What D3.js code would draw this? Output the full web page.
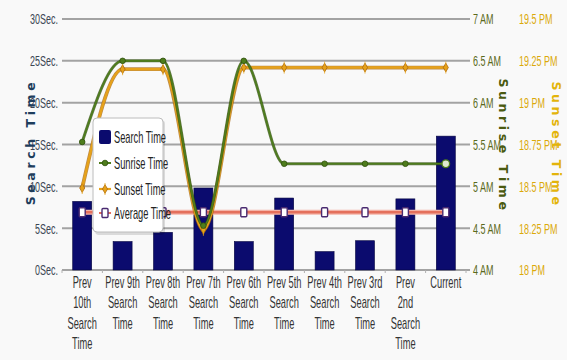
<!DOCTYPE html>
<html>
<head>
<meta charset="utf-8">
<script src="https://cdn.jsdelivr.net/npm/d3@7"></script>
<style>
  body { margin: 0; background: #fff; }
  svg { display: block; }
</style>
</head>
<body>
<div id="container"></div>
<script>
// DATA
const categories = [
  ['Prev', '10th', 'Search', 'Time'],
  ['Prev 9th', 'Search', 'Time'],
  ['Prev 8th', 'Search', 'Time'],
  ['Prev 7th', 'Search', 'Time'],
  ['Prev 6th', 'Search', 'Time'],
  ['Prev 5th', 'Search', 'Time'],
  ['Prev 4th', 'Search', 'Time'],
  ['Prev 3rd', 'Search', 'Time'],
  ['Prev', '2nd', 'Search', 'Time'],
  ['Current']
];
const searchTime = [8.2, 3.4, 4.5, 9.8, 3.4, 8.6, 2.2, 3.5, 8.5, 16.0];
const sunriseTime = [5.53, 6.5, 6.5, 4.53, 6.5, 5.27, 5.27, 5.27, 5.27, 5.27];
const sunsetTime = [18.49, 19.2, 19.2, 18.24, 19.21, 19.21, 19.21, 19.21, 19.21, 19.21];
const averageTime = [6.9, 6.9, 6.9, 6.9, 6.9, 6.9, 6.9, 6.9, 6.9, 6.9];

const secTicks = [0, 5, 10, 15, 20, 25, 30];
const sunriseTicks = [4, 4.5, 5, 5.5, 6, 6.5, 7];
const sunsetTicks = [18, 18.25, 18.5, 18.75, 19, 19.25, 19.5];

const legendItems = ['Search Time', 'Sunrise Time', 'Sunset Time', 'Average Time'];

// LAYOUT
const width = 567;
const height = 360;
const margin = {top: 19, right: 101, bottom: 90, left: 62};
const plotRight = width - margin.right;
const plotBottom = height - margin.bottom;

// no condensed font installed, so squeeze a regular one
const font = '"Liberation Sans", Arial, sans-serif';
const squeeze = 0.58;

const x = d3.scalePoint()
  .domain(d3.range(categories.length))
  .range([margin.left, plotRight])
  .padding(0.5);
const step = x.step();
const barW = step * 0.47;

const ySec = d3.scaleLinear([0, 30], [plotBottom, margin.top]);
const ySunrise = d3.scaleLinear([4, 7], [plotBottom, margin.top]);
const ySunset = d3.scaleLinear([18, 19.5], [plotBottom, margin.top]);

const colors = {
  bar: '#0b0b6e',
  sunrise: '#4e7d1c',
  sunriseDark: '#2f4f0c',
  sunset: '#e6a21a',
  sunsetDark: '#a8650c',
  avg: '#e4705c',
  avgMarker: '#4a2a70',
  grid: '#a3a3a3'
};

const svg = d3.select('#container')
  .append('svg')
  .attr('width', width)
  .attr('height', height);

svg.append('rect')
  .attr('width', width).attr('height', height)
  .attr('fill', '#f9f9f9');

// condensed text helper
function narrowText(parent, tx, ty, size, color, anchor) {
  return parent.append('text')
    .attr('transform', `translate(${tx},${ty}) scale(${squeeze},1)`)
    .attr('text-anchor', anchor || 'start')
    .style('font', `${size}px ${font}`)
    .attr('fill', color);
}

// gridlines
svg.append('g')
  .selectAll('line')
  .data(secTicks)
  .join('line')
    .attr('x1', margin.left)
    .attr('x2', plotRight + 4)
    .attr('y1', d => ySec(d))
    .attr('y2', d => ySec(d))
    .attr('stroke', colors.grid)
    .attr('stroke-width', 2);

// x ticks
svg.append('g')
  .selectAll('line')
  .data(d3.range(categories.length + 1))
  .join('line')
    .attr('x1', i => margin.left + i * step)
    .attr('x2', i => margin.left + i * step)
    .attr('y1', plotBottom)
    .attr('y2', plotBottom + 3)
    .attr('stroke', '#b0b0b0');

// left axis labels
const leftG = svg.append('g');
secTicks.forEach(d => {
  narrowText(leftG, margin.left - 4, ySec(d), 15.5, '#3b4654', 'end')
    .attr('dy', '0.35em').text(d + 'Sec.');
});

// right axis labels
const rightG = svg.append('g');
sunriseTicks.forEach(d => {
  narrowText(rightG, plotRight + 7, ySunrise(d), 15.5, '#5b6a1c')
    .attr('dy', '0.35em').text(d + ' AM');
});
sunsetTicks.forEach(d => {
  narrowText(rightG, plotRight + 53, ySunset(d), 15.5, '#dba90a')
    .attr('dy', '0.35em').text(d + ' PM');
});

// axis titles
function axisTitle(label, tx, ty, rot, color) {
  svg.append('text')
    .attr('transform', `translate(${tx},${ty}) rotate(${rot})`)
    .attr('text-anchor', 'middle')
    .attr('dy', '0.35em')
    .style('font', 'bold 12.5px "DejaVu Sans", sans-serif')
    .style('letter-spacing', '3.6px')
    .attr('fill', color)
    .text(label);
}
axisTitle('Search Time', 31, 142, -90, '#1e3d5c');
axisTitle('Sunrise Time', 503, 146, 90, '#4a5a10');
axisTitle('Sunset Time', 556, 145, 90, '#e3b40a');

// category labels
const catG = svg.append('g');
categories.forEach((lines, i) => {
  const t = narrowText(catG, x(i), plotBottom + 18, 16, '#333', 'middle');
  lines.forEach((ln, j) => {
    t.append('tspan')
      .attr('x', 0)
      .attr('dy', j === 0 ? 0 : 20.5)
      .text(ln);
  });
});

// bars
svg.append('g')
  .selectAll('rect')
  .data(searchTime)
  .join('rect')
    .attr('x', (d, i) => x(i) - barW / 2)
    .attr('y', d => ySec(d))
    .attr('width', barW)
    .attr('height', d => plotBottom - ySec(d))
    .attr('fill', colors.bar)
    .attr('stroke', '#05053f')
    .attr('stroke-width', 0.6);

// lines
function drawLine(values, yScale, color, dark, w) {
  const line = d3.line()
    .x((d, i) => x(i))
    .y(d => yScale(d))
    .curve(d3.curveMonotoneX);
  svg.append('path')
    .attr('d', line(values))
    .attr('fill', 'none')
    .attr('stroke', dark)
    .attr('stroke-width', w + 1.4)
    .attr('stroke-opacity', 0.75);
  svg.append('path')
    .attr('d', line(values))
    .attr('fill', 'none')
    .attr('stroke', color)
    .attr('stroke-width', w);
}

// average line
const avgLine = d3.line().x((d, i) => x(i)).y(d => ySec(d));
svg.append('path')
  .attr('d', avgLine(averageTime))
  .attr('fill', 'none')
  .attr('stroke', '#f4b4a8')
  .attr('stroke-width', 5);
svg.append('path')
  .attr('d', avgLine(averageTime))
  .attr('fill', 'none')
  .attr('stroke', colors.avg)
  .attr('stroke-width', 2.5);

drawLine(sunsetTime, ySunset, colors.sunset, colors.sunsetDark, 2.4);
drawLine(sunriseTime, ySunrise, colors.sunrise, colors.sunriseDark, 1.6);

// markers
const diamond = d3.symbol(d3.symbolDiamond, 22);
function sunsetMarker(g) {
  g.append('path').attr('d', diamond).attr('fill', colors.sunset)
    .attr('stroke', colors.sunsetDark).attr('stroke-width', 0.8);
  g.append('line').attr('y1', -6).attr('y2', 6)
    .attr('stroke', colors.sunset).attr('stroke-width', 0.8);
}
function sunriseMarker(g) {
  g.append('circle').attr('r', 2.8).attr('fill', colors.sunrise)
    .attr('stroke', colors.sunriseDark).attr('stroke-width', 0.8);
}
function avgMarker(g) {
  g.append('rect').attr('x', -3).attr('y', -4.5).attr('width', 6).attr('height', 9)
    .attr('rx', 1)
    .attr('fill', '#fff').attr('stroke', colors.avgMarker).attr('stroke-width', 1.4);
}

svg.append('g').selectAll('g').data(averageTime).join('g')
  .attr('transform', (d, i) => `translate(${x(i)},${ySec(d)})`)
  .each(function () { avgMarker(d3.select(this)); });

svg.append('g').selectAll('g').data(sunsetTime).join('g')
  .attr('transform', (d, i) => `translate(${x(i)},${ySunset(d)})`)
  .each(function () { sunsetMarker(d3.select(this)); });

svg.append('g').selectAll('g').data(sunriseTime).join('g')
  .attr('transform', (d, i) => `translate(${x(i)},${ySunrise(d)})`)
  .each(function (d, i) {
    if (i === sunriseTime.length - 1) {
      d3.select(this).append('circle').attr('r', 3.8)
        .attr('fill', '#dfe8cf').attr('stroke', colors.sunrise).attr('stroke-width', 1.3);
    } else {
      sunriseMarker(d3.select(this));
    }
  });

// legend
const legend = svg.append('g').attr('transform', 'translate(93,118)');
legend.append('rect')
  .attr('x', 2).attr('y', 2)
  .attr('width', 70).attr('height', 115)
  .attr('rx', 4)
  .attr('fill', '#000').attr('opacity', 0.12);
legend.append('rect')
  .attr('width', 70).attr('height', 114)
  .attr('rx', 4)
  .attr('fill', '#fff')
  .attr('stroke', '#bcbcbc');

const legendY = [19, 45, 71, 95];
legendItems.forEach((name, i) => {
  const g = legend.append('g').attr('transform', `translate(12,${legendY[i]})`);
  if (i === 0) {
    g.append('rect').attr('x', -6).attr('y', -7).attr('width', 12).attr('height', 14)
      .attr('rx', 2).attr('fill', colors.bar);
  } else if (i === 1) {
    g.append('line').attr('x1', -6).attr('x2', 6)
      .attr('stroke', colors.sunrise).attr('stroke-width', 2);
    sunriseMarker(g);
  } else if (i === 2) {
    g.append('line').attr('x1', -6).attr('x2', 6)
      .attr('stroke', colors.sunset).attr('stroke-width', 2.2);
    sunsetMarker(g);
  } else {
    g.append('line').attr('x1', -6).attr('x2', 6)
      .attr('stroke', colors.avg).attr('stroke-width', 2);
    avgMarker(g);
  }
  narrowText(g, 9, 0, 16, '#222')
    .attr('dy', '0.35em')
    .text(name);
});
</script>
</body>
</html>
